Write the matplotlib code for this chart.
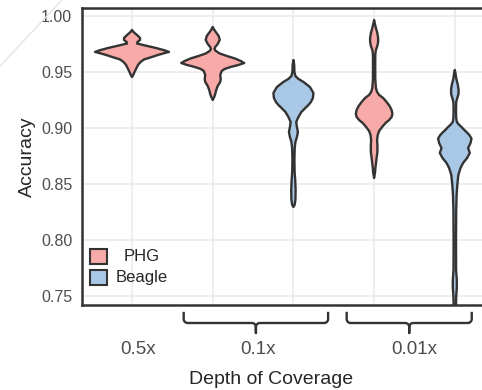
import numpy as np
import matplotlib.pyplot as plt
from matplotlib.lines import Line2D
from matplotlib.patches import Rectangle
from matplotlib.transforms import IdentityTransform

plt.rcParams['font.family'] = ['Liberation Sans', 'DejaVu Sans']

# groups on the x axis
depth_labels = ['0.5x', '0.1x', '0.01x']
depth_label_pos = [1.07, 2.56, 4.5]
brace_spans = [(1.64, 3.43), (3.66, 5.21)]

methods = ['PHG', 'PHG', 'Beagle', 'PHG', 'Beagle']
positions = [1, 2, 3, 4, 5]
colors = {'PHG': '#F7AAA8', 'Beagle': '#A9C8E6'}

# violin outlines: accuracy and density (half width)
acc_phg_05 = [0.9875, 0.9857, 0.9830, 0.9804, 0.9786, 0.9768, 0.9754, 0.9741,
              0.9714, 0.9692, 0.9679, 0.9670, 0.9652, 0.9634, 0.9612, 0.9589,
              0.9563, 0.9536, 0.9500, 0.9473, 0.9455]
dens_phg_05 = [0, 1.5, 5, 8, 8, 5.5, 5, 11, 24, 33, 37, 33, 26, 20, 12, 8.5,
               6, 4.5, 2.5, 1.2, 0]

acc_phg_01 = [0.9902, 0.9884, 0.9857, 0.9821, 0.9786, 0.9750, 0.9723, 0.9705,
              0.9688, 0.9665, 0.9643, 0.9621, 0.9598, 0.9580, 0.9563, 0.9545,
              0.9527, 0.9509, 0.9473, 0.9438, 0.9411, 0.9375, 0.9339, 0.9304,
              0.9277, 0.9250]
dens_phg_01 = [0, 1, 3, 6, 7, 5, 2.5, 1.8, 3, 7, 14, 22, 28, 31.5, 26, 18,
               12, 9, 7.5, 8, 7.5, 5, 3.5, 2.5, 1.5, 0]

acc_bgl_01 = [0.9607, 0.9563, 0.9500, 0.9464, 0.9438, 0.9411, 0.9366, 0.9313,
              0.9268, 0.9232, 0.9205, 0.9179, 0.9143, 0.9098, 0.9054, 0.9009,
              0.8964, 0.8920, 0.8875, 0.8821, 0.8714, 0.8607, 0.8536, 0.8446,
              0.8357, 0.8313, 0.8295]
dens_bgl_01 = [0, 0.8, 1, 2, 5, 10, 16.5, 20, 19.5, 17.5, 15, 12, 8, 5, 2.8,
               3.5, 4.5, 3.5, 2, 1.3, 1, 1.2, 1.8, 2.2, 2, 1.2, 0]

acc_phg_001 = [0.9964, 0.9929, 0.9893, 0.9848, 0.9804, 0.9768, 0.9732, 0.9696,
               0.9661, 0.9563, 0.9429, 0.9357, 0.9321, 0.9295, 0.9268, 0.9232,
               0.9196, 0.9161, 0.9125, 0.9098, 0.9071, 0.9045, 0.9009, 0.8973,
               0.8938, 0.8893, 0.8839, 0.8786, 0.8741, 0.8696, 0.8643, 0.8607,
               0.8554]
dens_phg_001 = [0, 0.8, 1.8, 3.2, 4, 4, 3.2, 1.8, 1.2, 1.1, 1.2, 1.8, 3, 5,
                9, 12.5, 15.5, 17.5, 18.3, 17.5, 15, 11.5, 8, 5, 3.6, 3, 3.3,
                3.3, 2.6, 2, 1.3, 1, 0]

acc_bgl_001 = [0.9518, 0.9482, 0.9438, 0.9393, 0.9348, 0.9304, 0.9268, 0.9232,
               0.9161, 0.9089, 0.9054, 0.9031, 0.9009, 0.8987, 0.8964, 0.8938,
               0.8906, 0.8866, 0.8821, 0.8777, 0.8732, 0.8688, 0.8643, 0.8580,
               0.8491, 0.8402, 0.8268, 0.8000, 0.7732, 0.7643, 0.7571, 0.7500,
               0.7420, 0.7357, 0.7321]
dens_bgl_001 = [0, 0.8, 1.5, 2.8, 3.7, 3.7, 2.5, 1.4, 1.2, 1.4, 2, 4, 6.7, 9,
                11.7, 14.5, 16.7, 15.7, 13.3, 15, 12.3, 8.3, 5.7, 3.5, 2.5,
                1.8, 1.4, 1.2, 1.3, 2, 2, 1.4, 1.2, 1.2, 0]

violins = [(acc_phg_05, dens_phg_05), (acc_phg_01, dens_phg_01),
           (acc_bgl_01, dens_bgl_01), (acc_phg_001, dens_phg_001),
           (acc_bgl_001, dens_bgl_001)]

width_scale = 1 / 80.7
edge = '#333333'
text_grey = '#4D4D4D'

fig = plt.figure(figsize=(4.82, 3.9), dpi=100)
ax = fig.add_axes([82 / 482, 85 / 390, 400 / 482, 297 / 390])

for pos, method, (acc, dens) in zip(positions, methods, violins):
    acc = np.array(acc)
    half = np.array(dens) * width_scale
    xs = np.concatenate([pos + half, (pos - half)[::-1]])
    ys = np.concatenate([acc, acc[::-1]])
    ax.fill(xs, ys, facecolor=colors[method], edgecolor=edge, lw=1.7,
            joinstyle='round', zorder=3)

ax.set_xlim(0.38, 5.337)
ax.set_ylim(0.742, 1.0071)
ax.set_xticks(positions)
ax.set_xticklabels([''] * len(positions))
ax.set_yticks([0.75, 0.80, 0.85, 0.90, 0.95, 1.00])
ax.set_yticklabels(['0.75', '0.80', '0.85', '0.90', '0.95', '1.00'])
ax.tick_params(length=0, labelsize=11.5, labelcolor=text_grey, pad=7)
ax.grid(color='#EBEBEB', lw=1.2)
ax.set_axisbelow(True)
for s in ['left', 'top', 'bottom']:
    ax.spines[s].set_color(edge)
    ax.spines[s].set_linewidth(1.8)
ax.spines['right'].set_visible(False)

for lab, xp in zip(depth_labels, depth_label_pos):
    ax.text(xp, -0.1515, lab, transform=ax.get_xaxis_transform(),
            ha='center', va='center', fontsize=13.5, color=text_grey)

ax.text(0.4725, -0.2525, 'Depth of Coverage', transform=ax.transAxes,
        ha='center', va='center', fontsize=14, color='#262626')
ax.text(-0.1375, 0.5, 'Accuracy', transform=ax.transAxes, rotation=90,
        ha='center', va='center', fontsize=14, color='#262626')

# legend drawn by hand, labels centred
for i, m in enumerate(['PHG', 'Beagle']):
    yb = 0.138 - i * 0.0707
    ax.add_patch(Rectangle((0.02, yb), 0.0425, 0.0505, transform=ax.transAxes,
                           facecolor=colors[m], edgecolor=edge, lw=1.5,
                           clip_on=False, zorder=4))
    ax.text(0.15, yb + 0.026, m, transform=ax.transAxes, ha='center',
            va='center', fontsize=12, color='#262626')

# curly braces under the axis, in pixels
r = 4.0
y_end, y_mid, y_tip = 390 - 313, 390 - 323, 390 - 333
for x0d, x1d in brace_spans:
    x0 = ax.transData.transform((x0d, 0))[0]
    x1 = ax.transData.transform((x1d, 0))[0]
    xc = (x0 + x1) / 2
    t = np.linspace(0, np.pi / 2, 12)
    px, py = [x0], [y_end]
    a = np.pi + t
    px += list(x0 + r + r * np.cos(a)); py += list(y_mid + r + r * np.sin(a))
    a = np.pi / 2 - t
    px += list(xc - r + r * np.cos(a)); py += list(y_mid - r + r * np.sin(a))
    px += [xc]; py += [y_tip]
    a = np.pi - t
    px += list(xc + r + r * np.cos(a)); py += list(y_mid - r + r * np.sin(a))
    a = 1.5 * np.pi + t
    px += list(x1 - r + r * np.cos(a)); py += list(y_mid + r + r * np.sin(a))
    px += [x1]; py += [y_end]
    fig.add_artist(Line2D(px, py, transform=IdentityTransform(), color=edge,
                          lw=1.7, solid_joinstyle='round'))

# faint diagonal stroke in the top-left corner of the picture
fig.add_artist(Line2D([0, 62 / 482], [1 - 66 / 390, 1], transform=fig.transFigure,
                      color='#E4E4E4', lw=1.0))

fig.savefig('out.png', dpi=100)
